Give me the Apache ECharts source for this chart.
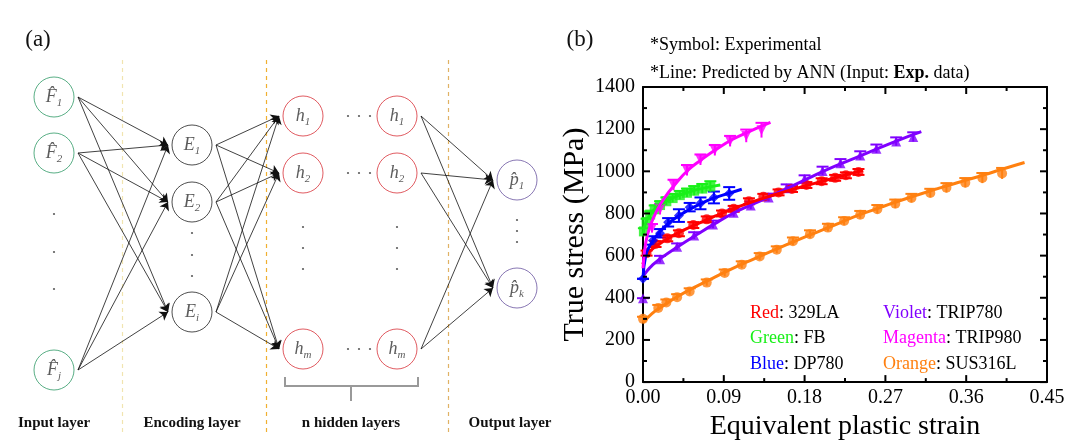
<!DOCTYPE html>
<html>
<head>
<meta charset="utf-8">
<script src="https://cdn.jsdelivr.net/npm/echarts@6/dist/echarts.min.js"></script>
<style>
  html, body { margin: 0; padding: 0; background: #fff; }
  #main { width: 1086px; height: 446px; }
</style>
</head>
<body>
<div id="main"></div>
<script>
// ---------- panel (a): network schematic, in diagram units ----------
// [symbol, subscript, x, y]
const inputNodes = [['F', '1', 54, 97], ['F', '2', 54, 153], ['F', 'j', 54, 370]];
const encNodes = [['E', '1', 192, 145], ['E', '2', 192, 202], ['E', 'i', 192, 312]];
const hidFirst = [['h', '1', 303, 116], ['h', '2', 303, 173], ['h', 'm', 303, 349]];
const hidLast = [['h', '1', 397, 116], ['h', '2', 397, 173], ['h', 'm', 397, 349]];
const outNodes = [['p', '1', 517, 180], ['p', 'k', 517, 288]];
const layerNames = ['Input layer', 'Encoding layer', 'n hidden layers', 'Output layer'];
const layerNameX = [54, 192, 351, 510];
const dividerX = [122, 266, 448];
const vDots = [[54, 214], [54, 252], [54, 289], [192, 233], [192, 255], [192, 276],
  [303, 227], [303, 248], [303, 269], [397, 227], [397, 248], [397, 269],
  [517, 220], [517, 231], [517, 242]];
const hDotX = [348, 359, 370];
const hDotY = [116, 173, 349];

// ---------- panel (b): true stress vs equivalent plastic strain ----------
const xMajor = [0, 0.09, 0.18, 0.27, 0.36, 0.45];
const xMinor = [0.045, 0.135, 0.225, 0.315, 0.405];
const yMajor = [0, 200, 400, 600, 800, 1000, 1200, 1400];
const yMinor = [100, 300, 500, 700, 900, 1100, 1300];

// experimental symbols
const redX = [0.004, 0.014, 0.027, 0.040, 0.056, 0.071, 0.088, 0.101, 0.118, 0.134, 0.151, 0.166, 0.182, 0.199, 0.214, 0.226, 0.240];
const redY = [612, 655, 682, 706, 745, 772, 800, 822, 858, 879, 900, 916, 935, 953, 969, 981, 997];
const redErr = [12, 14, 14, 14, 14, 14, 14, 14, 14, 14, 14, 14, 14, 14, 14, 14, 14];
const greenX = [0.001, 0.004, 0.008, 0.013, 0.019, 0.026, 0.033, 0.041, 0.049, 0.057, 0.066, 0.075];
const greenY = [715, 760, 795, 820, 840, 858, 873, 887, 898, 908, 918, 928];
const greenErr = [15, 15, 15, 18, 18, 18, 20, 20, 20, 22, 22, 25];
const blueX = [0, 0.011, 0.019, 0.028, 0.040, 0.052, 0.064, 0.079, 0.096];
const blueY = [490, 672, 706, 758, 790, 830, 848, 876, 895];
const blueErr = [0, 20, 20, 20, 30, 20, 28, 28, 30];
const violetX = [0, 0.019, 0.038, 0.057, 0.078, 0.101, 0.12, 0.14, 0.16, 0.18, 0.2, 0.22, 0.242, 0.26, 0.282, 0.301];
const violetY = [398, 583, 642, 695, 748, 803, 838, 876, 920, 963, 1002, 1038, 1075, 1107, 1141, 1163];
const violetErr = [0, 16, 16, 16, 18, 18, 18, 18, 18, 18, 20, 20, 20, 20, 20, 22];
const magentaX = [0.010, 0.019, 0.034, 0.049, 0.064, 0.080, 0.097, 0.115, 0.132];
const magentaY = [730, 820, 935, 1005, 1055, 1100, 1143, 1168, 1195];
const magentaErr = [20, 25, 25, 25, 25, 25, 25, 30, 35];
const orangeX = [0, 0.017, 0.026, 0.038, 0.052, 0.071, 0.091, 0.110, 0.130, 0.149, 0.167, 0.186, 0.206, 0.224, 0.242, 0.261, 0.281, 0.299, 0.320, 0.338, 0.359, 0.378, 0.400];
const orangeY = [300, 352, 378, 403, 430, 472, 518, 557, 596, 628, 668, 702, 733, 764, 794, 820, 846, 873, 897, 922, 946, 968, 990];
const orangeErr = [10, 14, 14, 14, 15, 15, 16, 16, 16, 16, 18, 18, 18, 18, 18, 20, 20, 20, 20, 22, 22, 24, 26];

// ANN predicted lines
const redLineX = [0, 0.003, 0.01, 0.02, 0.04, 0.06, 0.08, 0.1, 0.12, 0.14, 0.16, 0.18, 0.2, 0.22, 0.245];
const redLineY = [560, 600, 630, 660, 710, 750, 787, 822, 853, 880, 906, 930, 953, 976, 1005];
const greenLineX = [0, 0.003, 0.008, 0.015, 0.025, 0.035, 0.05, 0.065, 0.086];
const greenLineY = [700, 755, 795, 828, 857, 878, 900, 918, 935];
const blueLineX = [0, 0.003, 0.008, 0.015, 0.025, 0.035, 0.05, 0.065, 0.08, 0.095, 0.11];
const blueLineY = [490, 600, 650, 695, 740, 775, 815, 848, 875, 895, 915];
const violetLineX = [0, 0.005, 0.01, 0.02, 0.04, 0.06, 0.08, 0.1, 0.12, 0.14, 0.16, 0.18, 0.2, 0.22, 0.24, 0.26, 0.28, 0.31];
const violetLineY = [500, 530, 553, 588, 646, 700, 752, 800, 840, 878, 918, 958, 998, 1035, 1070, 1105, 1140, 1188];
const magentaLineX = [0, 0.003, 0.008, 0.015, 0.025, 0.035, 0.05, 0.065, 0.08, 0.1, 0.12, 0.142];
const magentaLineY = [540, 660, 740, 810, 880, 935, 1005, 1055, 1100, 1152, 1192, 1232];
const orangeLineX = [0, 0.01, 0.02, 0.04, 0.06, 0.08, 0.1, 0.12, 0.14, 0.16, 0.18, 0.2, 0.22, 0.24, 0.26, 0.28, 0.3, 0.32, 0.34, 0.36, 0.38, 0.4, 0.425];
const orangeLineY = [282, 325, 355, 410, 455, 498, 540, 578, 615, 652, 688, 722, 757, 792, 822, 852, 880, 907, 933, 958, 983, 1010, 1042];

const legendRows = [['Red', ': 329LA'], ['Green', ': FB'], ['Blue', ': DP780'],
  ['Violet', ': TRIP780'], ['Magenta', ': TRIP980'], ['Orange', ': SUS316L']];

const serif = 'Liberation Serif';
const colors = {
  Red: '#ff0000', Green: '#19f019', Blue: '#0000ff',
  Violet: '#8000ff', Magenta: '#ff00ff', Orange: '#ff8010'
};

function zip(xs, ys, es) {
  return xs.map(function (x, i) { return es ? [x, ys[i], es[i]] : [x, ys[i]]; });
}

function nodeSeries(list, hat, border) {
  return {
    type: 'scatter', xAxisIndex: 0, yAxisIndex: 0, silent: true, z: 5,
    symbol: 'circle', symbolSize: 40,
    itemStyle: { color: '#fff', borderColor: border, borderWidth: 1 },
    label: {
      show: true, position: 'inside',
      formatter: function (p) { return '{m|' + p.data.main + '}{s|' + p.data.sub + '}'; },
      rich: {
        m: { fontFamily: serif, fontStyle: 'italic', fontSize: 18, color: '#333', lineHeight: 24 },
        s: { fontFamily: serif, fontStyle: 'italic', fontSize: 11, color: '#333', lineHeight: 11, verticalAlign: 'bottom' }
      }
    },
    data: list.map(function (n) {
      return { value: [n[2], n[3]], main: n[0] + (hat ? '\u0302' : ''), sub: n[1] };
    })
  };
}

function connect(from, to) {
  const out = [];
  from.forEach(function (a) {
    to.forEach(function (b) {
      out.push({ coords: [[a[2] + 24, a[3]], [b[2] - 24, b[3]]] });
    });
  });
  return out;
}

const edges = connect(inputNodes, encNodes)
  .concat(connect(encNodes, hidFirst))
  .concat(connect(hidLast, outNodes));

const dotData = vDots.slice();
hDotY.forEach(function (y) { hDotX.forEach(function (x) { dotData.push([x, y]); }); });

function errRenderer(bothCaps) {
  return function (params, api) {
    const p = api.coord([api.value(0), api.value(1)]);
    const hi = api.coord([api.value(0), api.value(1) + api.value(2)]);
    const lo = api.coord([api.value(0), api.value(1) - api.value(2)]);
    const st = { stroke: api.visual('color'), lineWidth: 2 };
    const parts = [
      { type: 'line', shape: { x1: p[0], y1: lo[1], x2: p[0], y2: hi[1] }, style: st },
      { type: 'line', shape: { x1: p[0] - 6, y1: hi[1], x2: p[0] + 6, y2: hi[1] }, style: st }
    ];
    if (bothCaps) {
      parts.push({ type: 'line', shape: { x1: p[0] - 6, y1: lo[1], x2: p[0] + 6, y2: lo[1] }, style: st });
    }
    return { type: 'group', children: parts };
  };
}

function materialSeries(name, xs, ys, es, lx, ly, symbol, rotate, bothCaps) {
  const c = colors[name];
  return [
    { type: 'custom', name: name + ' err', xAxisIndex: 1, yAxisIndex: 1, silent: true,
      itemStyle: { color: c }, renderItem: errRenderer(bothCaps), data: zip(xs, ys, es), z: 3 },
    { type: 'scatter', name: name, xAxisIndex: 1, yAxisIndex: 1, silent: true,
      symbol: symbol, symbolRotate: rotate || 0, symbolSize: 10,
      itemStyle: { color: c }, data: zip(xs, ys), z: 4 },
    { type: 'line', name: name + ' ANN', xAxisIndex: 1, yAxisIndex: 1, silent: true,
      smooth: true, showSymbol: false, lineStyle: { color: c, width: 3 },
      data: zip(lx, ly), z: 5 }
  ];
}

// inward ticks on all four sides of the frame
function tickSeries(values, dir, len) {
  return {
    type: 'custom', xAxisIndex: 1, yAxisIndex: 1, silent: true, z: 6, clip: false,
    data: values.map(function (v) { return dir === 'x' ? [v, 0] : [0, v]; }),
    renderItem: function (params, api) {
      const st = { stroke: '#000', lineWidth: 2 };
      let a, b;
      if (dir === 'x') {
        a = api.coord([api.value(0), 0]);
        b = api.coord([api.value(0), 1400]);
        return { type: 'group', children: [
          { type: 'line', shape: { x1: a[0], y1: a[1], x2: a[0], y2: a[1] - len }, style: st },
          { type: 'line', shape: { x1: b[0], y1: b[1], x2: b[0], y2: b[1] + len }, style: st }
        ] };
      }
      a = api.coord([0, api.value(1)]);
      b = api.coord([0.45, api.value(1)]);
      return { type: 'group', children: [
        { type: 'line', shape: { x1: a[0], y1: a[1], x2: a[0] + len, y2: a[1] }, style: st },
        { type: 'line', shape: { x1: b[0], y1: b[1], x2: b[0] - len, y2: b[1] }, style: st }
      ] };
    }
  };
}

function chartAxis(min, max, step, pos, labels, extra) {
  return Object.assign({
    gridIndex: 1, type: 'value', min: min, max: max, interval: step, position: pos,
    axisLine: { show: true, onZero: false, lineStyle: { color: '#000', width: 2 } },
    axisTick: { show: false },
    minorTick: { show: false },
    splitLine: { show: false },
    axisLabel: { show: labels, color: '#000', fontFamily: serif, fontSize: 20,
      margin: pos === 'left' ? 8 : 6,
      formatter: function (v) { return step < 1 ? v.toFixed(2) : String(v); } }
  }, extra || {});
}

const graphics = [
  { type: 'text', x: 38, y: 40, style: { text: '(a)', font: '23px "Liberation Serif"', fill: '#111', align: 'center', verticalAlign: 'middle' } },
  { type: 'text', x: 580, y: 40, style: { text: '(b)', font: '23px "Liberation Serif"', fill: '#111', align: 'center', verticalAlign: 'middle' } },
  { type: 'text', x: 650, y: 45, style: { text: '*Symbol: Experimental', font: '18px "Liberation Serif"', fill: '#000', verticalAlign: 'middle' } },
  { type: 'text', x: 650, y: 73, style: {
      text: '*Line: Predicted by ANN (Input: {b|Exp.} data)', font: '18px "Liberation Serif"', fill: '#000', verticalAlign: 'middle',
      rich: { b: { fontFamily: serif, fontSize: 18, fontWeight: 'bold', fill: '#000' } } } }
];
layerNames.forEach(function (t, i) {
  graphics.push({ type: 'text', x: layerNameX[i], y: 423,
    style: { text: t, font: 'bold 15px "Liberation Serif"', fill: '#111', align: 'center', verticalAlign: 'middle' } });
});
legendRows.forEach(function (r, i) {
  graphics.push({ type: 'text', x: i < 3 ? 750 : 883, y: 313 + (i % 3) * 25.5,
    style: {
      text: '{c|' + r[0] + '}{k|' + r[1] + '}', verticalAlign: 'middle',
      rich: {
        c: { fontFamily: serif, fontSize: 18, fill: colors[r[0]] },
        k: { fontFamily: serif, fontSize: 18, fill: '#000' }
      }
    } });
});

const option = {
  animation: false,
  backgroundColor: '#fff',
  grid: [
    { left: 0, top: 0, width: 540, height: 446 },
    { left: 643, top: 87, width: 404, height: 302 }
  ],
  xAxis: [
    { gridIndex: 0, type: 'value', min: 0, max: 540, show: false },
    chartAxis(0, 0.45, 0.09, 'bottom', true, {
      name: 'Equivalent plastic strain', nameLocation: 'middle', nameGap: 20,
      nameTextStyle: { color: '#000', fontFamily: serif, fontSize: 28 } }),
    chartAxis(0, 0.45, 0.09, 'top', false)
  ],
  yAxis: [
    { gridIndex: 0, type: 'value', min: 0, max: 446, inverse: true, show: false },
    chartAxis(0, 1400, 200, 'left', true, {
      name: 'True stress (MPa)', nameLocation: 'middle', nameGap: 53,
      nameTextStyle: { color: '#000', fontFamily: serif, fontSize: 30 } }),
    chartAxis(0, 1400, 200, 'right', false)
  ],
  graphic: graphics,
  series: [
    { type: 'lines', coordinateSystem: 'cartesian2d', xAxisIndex: 0, yAxisIndex: 0, silent: true, z: 1,
      lineStyle: { type: [4, 4], width: 1.2, opacity: 1 },
      data: [
        { coords: [[dividerX[0], 60], [dividerX[0], 432]], lineStyle: { color: '#f1e4b0' } },
        { coords: [[dividerX[1], 60], [dividerX[1], 432]], lineStyle: { color: '#f0b030' } },
        { coords: [[dividerX[2], 60], [dividerX[2], 432]], lineStyle: { color: '#e0b264' } }
      ] },
    { type: 'lines', coordinateSystem: 'cartesian2d', xAxisIndex: 0, yAxisIndex: 0, silent: true, z: 2,
      symbol: ['none', 'arrow'], symbolSize: 8,
      lineStyle: { color: '#111', width: 0.8, opacity: 1 },
      data: edges },
    { type: 'lines', coordinateSystem: 'cartesian2d', xAxisIndex: 0, yAxisIndex: 0, silent: true, polyline: true, z: 2,
      lineStyle: { color: '#999', width: 2, opacity: 1 },
      data: [
        { coords: [[285, 377], [285, 386], [418, 386], [418, 377]] },
        { coords: [[351, 386], [351, 401]] }
      ] },
    { type: 'scatter', xAxisIndex: 0, yAxisIndex: 0, silent: true, symbolSize: 2.2,
      itemStyle: { color: '#333' }, data: dotData },
    nodeSeries(inputNodes, true, '#2f9a66'),
    nodeSeries(encNodes, false, '#222'),
    nodeSeries(hidFirst, false, '#d8323a'),
    nodeSeries(hidLast, false, '#d8323a'),
    nodeSeries(outNodes, true, '#6a55a0'),
    tickSeries(xMajor, 'x', 7),
    tickSeries(xMinor, 'x', 4),
    tickSeries(yMajor, 'y', 7),
    tickSeries(yMinor, 'y', 4)
  ]
    .concat(materialSeries('Orange', orangeX, orangeY, orangeErr, orangeLineX, orangeLineY, 'circle'))
    .concat(materialSeries('Violet', violetX, violetY, violetErr, violetLineX, violetLineY, 'triangle'))
    .concat(materialSeries('Red', redX, redY, redErr, redLineX, redLineY, 'circle', 0, true))
    .concat(materialSeries('Blue', blueX, blueY, blueErr, blueLineX, blueLineY, 'diamond', 0, true))
    .concat(materialSeries('Green', greenX, greenY, greenErr, greenLineX, greenLineY, 'rect'))
    .concat(materialSeries('Magenta', magentaX, magentaY, magentaErr, magentaLineX, magentaLineY, 'triangle', 180))
};

const chart = echarts.init(document.getElementById('main'), null, { renderer: 'canvas' });
chart.setOption(option);
</script>
</body>
</html>
